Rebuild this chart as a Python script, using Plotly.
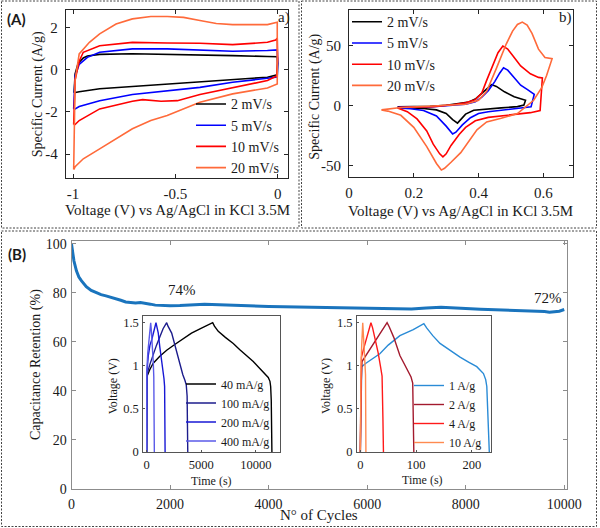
import plotly.graph_objects as go

W, H = 600, 528

def px(x):
    return x / W

def py(y):
    return 1 - y / H

# ---------------- Panel (A) a) : CV, negative electrode ----------------
cv_a_labels = ["2 mV/s", "5 mV/s", "10 mV/s", "20 mV/s"]
cv_a_colors = ["#000000", "#0000ff", "#ff0000", "#ff6a3a"]

cv_a_2_x = [-0.995, -0.99, -0.975, -0.95, -0.93, -0.87, -0.71, -0.54, -0.38, -0.22, -0.05, -0.002, 0.0,
            -0.002, -0.05, -0.22, -0.38, -0.54, -0.71, -0.87, -0.97, -0.99, -0.995]
cv_a_2_y = [-1.1, -0.2, 0.3, 0.55, 0.64, 0.72, 0.75, 0.73, 0.69, 0.66, 0.62, 0.61, 0.3,
            -0.25, -0.36, -0.47, -0.6, -0.68, -0.79, -0.91, -1.05, -1.1, -1.1]

cv_a_5_x = [-0.997, -0.99, -0.97, -0.93, -0.87, -0.71, -0.54, -0.38, -0.22, -0.05, -0.002, 0.0,
            -0.002, -0.05, -0.22, -0.38, -0.54, -0.71, -0.87, -0.97, -0.99, -0.997]
cv_a_5_y = [-1.86, -0.3, 0.25, 0.58, 0.82, 0.98, 0.98, 0.93, 0.87, 0.9, 0.93, 0.3,
            -0.35, -0.41, -0.6, -0.84, -0.99, -1.18, -1.47, -1.75, -1.86, -1.86]

cv_a_10_x = [-0.997, -0.99, -0.97, -0.95, -0.87, -0.71, -0.54, -0.38, -0.22, -0.05, -0.01, -0.002, 0.0,
             -0.005, -0.05, -0.22, -0.38, -0.49, -0.57, -0.66, -0.71, -0.87, -0.97, -0.99, -0.997]
cv_a_10_y = [-2.6, -0.5, 0.4, 0.82, 1.13, 1.29, 1.26, 1.25, 1.18, 1.29, 1.4, 1.48, 0.5,
             -0.3, -0.52, -0.87, -1.18, -1.47, -1.5, -1.42, -1.5, -1.86, -2.41, -2.6, -2.6]

cv_a_20_x = [-0.997, -0.99, -0.97, -0.92, -0.87, -0.79, -0.71, -0.62, -0.54, -0.46, -0.38, -0.3, -0.22, -0.05,
             -0.002, 0.0, -0.002, -0.05, -0.22, -0.38, -0.48, -0.54, -0.62, -0.71, -0.87, -0.95, -0.99, -0.997]
cv_a_20_y = [-4.73, -0.5, 0.74, 1.29, 1.69, 2.16, 2.4, 2.51, 2.51, 2.47, 2.32, 2.18, 2.13, 2.13,
             2.24, 0.0, -0.68, -0.87, -1.15, -1.54, -1.94, -2.17, -2.41, -2.8, -3.75, -4.22, -4.6, -4.73]

# ---------------- Panel (A) b) : CV, positive electrode ----------------
cv_b_2_x = [0.15, 0.20, 0.25, 0.30, 0.34, 0.37, 0.39, 0.41, 0.43, 0.44, 0.455, 0.48, 0.51, 0.53, 0.545,
            0.54, 0.52, 0.47, 0.42, 0.385, 0.36, 0.345, 0.335, 0.32, 0.30, 0.27, 0.23, 0.19, 0.15]
cv_b_2_y = [-1.0, -1.0, -0.6, 0.3, 1.5, 3.0, 5.5, 10.5, 15.5, 17.5, 16.0, 11.5, 7.5, 5.5, 4.5,
            0.5, -0.8, -1.8, -2.8, -3.8, -7.0, -12.0, -14.5, -11.5, -6.5, -3.5, -2.3, -1.8, -1.5]

cv_b_5_x = [0.15, 0.20, 0.26, 0.32, 0.36, 0.39, 0.41, 0.43, 0.45, 0.465, 0.477, 0.49, 0.51, 0.53, 0.55, 0.565, 0.572,
            0.562, 0.52, 0.47, 0.43, 0.40, 0.375, 0.35, 0.33, 0.32, 0.30, 0.27, 0.23, 0.19, 0.15]
cv_b_5_y = [-1.3, -1.2, -0.8, 0.3, 1.3, 3.2, 7.0, 12.5, 20.0, 27.0, 31.5, 29.5, 23.0, 17.0, 13.5, 11.0, 9.5,
            -1.0, -2.2, -3.5, -5.0, -6.5, -10.0, -16.0, -22.0, -23.5, -17.0, -8.5, -4.0, -2.5, -1.8]

cv_b_10_x = [0.15, 0.20, 0.26, 0.32, 0.36, 0.39, 0.41, 0.425, 0.445, 0.46, 0.475, 0.49, 0.51, 0.53, 0.56, 0.585, 0.597,
             0.59, 0.56, 0.49, 0.43, 0.39, 0.36, 0.34, 0.315, 0.30, 0.29, 0.28, 0.26, 0.24, 0.21, 0.18, 0.15]
cv_b_10_y = [-1.5, -1.4, -0.8, 0.8, 2.5, 5.0, 10.5, 21.0, 35.0, 44.0, 49.5, 47.0, 40.0, 33.0, 26.5, 23.5, 23.0,
             -4.0, -5.8, -7.8, -9.7, -12.5, -18.0, -24.0, -33.0, -40.0, -42.5, -40.0, -32.0, -21.0, -11.0, -5.0, -2.0]

cv_b_20_x = [0.10, 0.16, 0.26, 0.36, 0.40, 0.425, 0.455, 0.485, 0.505, 0.52, 0.535, 0.55, 0.565, 0.585, 0.605, 0.62, 0.627,
             0.61, 0.595, 0.57, 0.52, 0.47, 0.425, 0.395, 0.375, 0.345, 0.315, 0.295, 0.285, 0.27, 0.24, 0.20, 0.16, 0.12, 0.10]
cv_b_20_y = [-3.5, -1.5, -0.3, 1.2, 4.5, 12.0, 31.0, 51.0, 62.0, 67.5, 69.5, 67.0, 60.0, 47.0, 40.0, 39.5, 39.0,
             25.0, 15.0, 4.5, -6.5, -10.5, -13.5, -20.0, -28.0, -39.0, -47.0, -52.0, -53.5, -48.0, -34.0, -18.0, -8.0, -4.5, -3.5]

# ---------------- Panel (B) : capacitance retention ----------------
cycles = [0, 20, 50, 100, 150, 200, 300, 400, 500, 600, 700, 800, 900, 1000, 1100, 1200, 1300, 1400, 1500,
          1600, 1700, 1800, 1900, 2000, 2200, 2400, 2600, 2700, 2800, 3000, 3200, 3400, 3600, 3800, 4000,
          4300, 4600, 5000, 5300, 5600, 6000, 6300, 6600, 6900, 7200, 7500, 7800, 8000, 8300, 8600, 8900,
          9200, 9400, 9600, 9700, 9800, 9900, 10000]
retention = [100, 97, 93, 89, 86.5, 85, 82.5, 81, 80, 79.3, 78.8, 78.3, 77.6, 77, 76.3, 76, 75.9, 76.1, 75.9,
             75.4, 75, 74.8, 74.7, 74.7, 74.8, 74.9, 75.3, 75.4, 75.3, 75.1, 74.9, 74.8, 74.6, 74.5, 74.4,
             74.3, 74.2, 74.1, 74.0, 74.0, 73.9, 73.7, 73.6, 73.4, 73.8, 74.1, 73.8, 73.5, 73.3, 73.1, 72.9,
             72.8, 72.7, 72.4, 72.1, 72.2, 72.5, 73.2]

# ---------------- Inset 1 : GCD at mA/g ----------------
gcd1_labels = ["40 mA/g", "100 mA/g", "200 mA/g", "400 mA/g"]
gcd1_colors = ["#000000", "#1c1c8c", "#1818d4", "#5a5ae8"]
t_40 = [0, 5, 30, 300, 600, 1200, 1830, 2600, 3350, 4100, 4877, 5500, 6040, 6200, 6550, 7200, 7923, 8500,
        9150, 9753, 10200, 10668, 11000, 11125, 11280, 11345, 11400, 11437, 11460]
v_40 = [0, 0.6, 0.88, 0.96, 1.03, 1.11, 1.18, 1.25, 1.32, 1.38, 1.43, 1.47, 1.5, 1.46, 1.4, 1.33, 1.26, 1.19,
        1.12, 1.05, 0.99, 0.93, 0.89, 0.865, 0.82, 0.76, 0.6, 0.3, 0]
t_100 = [0, 5, 30, 300, 604, 900, 1217, 1500, 1830, 1950, 2287, 2700, 3047, 3300, 3504, 3620, 3700, 3740, 3760]
v_100 = [0, 0.6, 0.9, 1.02, 1.14, 1.24, 1.34, 1.43, 1.5, 1.46, 1.38, 1.18, 0.99, 0.9, 0.83, 0.78, 0.65, 0.3, 0]
t_200 = [0, 5, 20, 150, 300, 457, 650, 850, 920, 1061, 1200, 1372, 1480, 1583, 1640, 1670, 1685]
v_200 = [0, 0.6, 0.93, 1.12, 1.24, 1.3, 1.4, 1.5, 1.46, 1.38, 1.22, 1.07, 0.96, 0.85, 0.76, 0.4, 0]
t_400 = [0, 3, 15, 100, 200, 366, 420, 530, 600, 650, 680, 700]
v_400 = [0, 0.6, 0.95, 1.15, 1.3, 1.5, 1.42, 1.22, 1.05, 0.87, 0.6, 0]

# ---------------- Inset 2 : GCD at A/g ----------------
gcd2_labels = ["1 A/g", "2 A/g", "4 A/g", "10 A/g"]
gcd2_colors = ["#2a8bd6", "#a31a2e", "#ff1a1a", "#ff8a50"]
t_1 = [0, 1, 2.5, 10, 17, 35, 50, 71, 95, 114, 119, 130, 143, 160, 179, 195, 209, 221, 225, 227, 229, 230.5, 231.5]
v_1 = [0, 0.6, 0.99, 1.03, 1.06, 1.14, 1.24, 1.35, 1.42, 1.49, 1.44, 1.35, 1.26, 1.18, 1.1, 1.04, 0.99, 0.91,
       0.84, 0.76, 0.5, 0.2, 0]
t_2 = [0, 1, 3, 10, 20, 30, 40, 48, 52, 60, 71, 80, 86, 91, 94, 95.3, 96]
v_2 = [0, 0.7, 1.05, 1.12, 1.22, 1.32, 1.42, 1.5, 1.45, 1.33, 1.12, 1.0, 0.93, 0.87, 0.8, 0.4, 0]
t_4 = [0, 1, 2, 6, 12, 19, 22, 27, 32, 36, 39, 40.5, 41.5]
v_4 = [0, 0.8, 1.1, 1.2, 1.33, 1.5, 1.44, 1.3, 1.15, 1.0, 0.88, 0.4, 0]
t_10 = [0, 0.5, 1.2, 2.5, 4.3, 6, 8, 9.3, 10]
v_10 = [0, 0.7, 1.0, 1.25, 1.5, 1.3, 1.1, 0.9, 0]

# tick labels
a_xticks = [-1, -0.5, 0]
a_xtext = ["-1", "-0.5", "0"]
a_yticks = [-4, -2, 0, 2]
a_ytext = ["-4", "-2", "0", "2"]
b_xticks = [0, 0.2, 0.4, 0.6]
b_xtext = ["0", "0.2", "0.4", "0.6"]
b_yticks = [-50, 0, 50]
b_ytext = ["-50", "0", "50"]
B_xticks = [0, 2000, 4000, 6000, 8000, 10000]
B_xtext = ["0", "2000", "4000", "6000", "8000", "10000"]
B_yticks = [0, 20, 40, 60, 80, 100]
B_ytext = ["0", "20", "40", "60", "80", "100"]
i1_xticks = [0, 5000, 10000]
i1_xtext = ["0", "5000", "10000"]
i2_xticks = [0, 100, 200]
i2_xtext = ["0", "100", "200"]
i_yticks = [0, 0.5, 1, 1.5]
i_ytext = ["0", "0.5", "1", "1.5"]

SERIF = "Liberation Serif"

fig = go.Figure()

cv_a = [(cv_a_2_x, cv_a_2_y), (cv_a_5_x, cv_a_5_y), (cv_a_10_x, cv_a_10_y), (cv_a_20_x, cv_a_20_y)]
for (xs, ys), name, col in zip(cv_a, cv_a_labels, cv_a_colors):
    fig.add_trace(go.Scatter(x=xs, y=ys, mode="lines", name=name, line=dict(color=col, width=1.6),
                             xaxis="x", yaxis="y", legend="legend"))

cv_b = [(cv_b_2_x, cv_b_2_y), (cv_b_5_x, cv_b_5_y), (cv_b_10_x, cv_b_10_y), (cv_b_20_x, cv_b_20_y)]
for (xs, ys), name, col in zip(cv_b, cv_a_labels, cv_a_colors):
    fig.add_trace(go.Scatter(x=xs, y=ys, mode="lines", name=name, line=dict(color=col, width=1.6),
                             xaxis="x2", yaxis="y2", legend="legend2"))

fig.add_trace(go.Scatter(x=cycles, y=retention, mode="lines", showlegend=False,
                         line=dict(color="#1a74bd", width=3), xaxis="x3", yaxis="y3"))

gcd1 = [(t_40, v_40), (t_100, v_100), (t_200, v_200), (t_400, v_400)]
for (xs, ys), name, col in zip(gcd1, gcd1_labels, gcd1_colors):
    fig.add_trace(go.Scatter(x=xs, y=ys, mode="lines", name=name, line=dict(color=col, width=1.4),
                             xaxis="x4", yaxis="y4", legend="legend3"))

gcd2 = [(t_1, v_1), (t_2, v_2), (t_4, v_4), (t_10, v_10)]
for (xs, ys), name, col in zip(gcd2, gcd2_labels, gcd2_colors):
    fig.add_trace(go.Scatter(x=xs, y=ys, mode="lines", name=name, line=dict(color=col, width=1.4),
                             xaxis="x5", yaxis="y5", legend="legend4"))


def ax(domain, rng, tv, tt, anchor, color="#262626", size=14, ticklen=4, standoff=2, mirror="ticks"):
    return dict(domain=domain, range=rng, tickvals=tv, ticktext=tt, anchor=anchor,
                showline=True, linecolor=color, linewidth=1, mirror=mirror,
                ticks="inside", ticklen=ticklen, tickcolor=color, showgrid=False, zeroline=False,
                automargin=False,
                tickfont=dict(family=SERIF, size=size, color="#1a1a1a"), ticklabelstandoff=standoff)


layout = dict(
    template="none",
    width=W, height=H, margin=dict(l=0, r=0, t=0, b=0, pad=0, autoexpand=False),
    paper_bgcolor="white", plot_bgcolor="white",
    font=dict(family=SERIF, color="#1a1a1a"),
    xaxis=ax([px(65.7), px(288.3)], [-1.036, 0.052], a_xticks, a_xtext, "y", size=15, standoff=2),
    yaxis=ax([py(178), py(10)], [-5.13, 2.82], a_yticks, a_ytext, "x", size=15, standoff=4),
    xaxis2=ax([px(349), px(572.5)], [0, 0.69], b_xticks, b_xtext, "y2", size=15, standoff=2),
    yaxis2=ax([py(177.3), py(10)], [-59.5, 79.5], b_yticks, b_ytext, "x2", size=15, standoff=4),
    xaxis3=ax([px(71.5), px(566.7)], [0, 10050], B_xticks, B_xtext, "y3", color="#8c8c8c", size=14, standoff=2),
    yaxis3=ax([py(488.7), py(241)], [0, 101.2], B_yticks, B_ytext, "x3", color="#8c8c8c", size=14, standoff=1),
    xaxis4=ax([px(143.3), px(280)], [-310, 12200], i1_xticks, i1_xtext, "y4", color="#555555", size=12.5,
              ticklen=2, mirror=True, standoff=1),
    yaxis4=ax([py(452), py(316)], [0, 1.578], i_yticks, i_ytext, "x4", color="#555555", size=12.5,
              ticklen=2, mirror=True, standoff=1),
    xaxis5=ax([px(357), px(490.7)], [-6, 234], i2_xticks, i2_xtext, "y5", color="#555555", size=12.5,
              ticklen=2, mirror=True, standoff=1),
    yaxis5=ax([py(452), py(316)], [0, 1.578], i_yticks, i_ytext, "x5", color="#555555", size=12.5,
              ticklen=2, mirror=True, standoff=1),
)

leg_common = dict(xanchor="left", yanchor="top", bgcolor="rgba(0,0,0,0)", borderwidth=0, tracegroupgap=0)
layout["legend"] = dict(x=px(191), y=py(88.4), font=dict(family=SERIF, size=14, color="#1a1a1a"), **leg_common)
layout["legend2"] = dict(x=px(347), y=py(6.2), font=dict(family=SERIF, size=14, color="#1a1a1a"), **leg_common)
layout["legend3"] = dict(x=px(181), y=py(369.5), font=dict(family=SERIF, size=12, color="#1a1a1a"), **leg_common)
layout["legend4"] = dict(x=px(409), y=py(371), font=dict(family=SERIF, size=12, color="#1a1a1a"), **leg_common)

fig.update_layout(**layout)


def note(text, xp, yp, size=15, angle=0, family=SERIF, bold=False):
    fig.add_annotation(text=("<b>%s</b>" % text) if bold else text, x=px(xp), y=py(yp),
                       xref="paper", yref="paper", xanchor="center", yanchor="middle",
                       showarrow=False, textangle=angle,
                       font=dict(family=family, size=size, color="#1a1a1a"))


note("Voltage (V) vs Ag/AgCl in KCl 3.5M", 177.5, 210)
note("Specific Current (A/g)", 38.3, 94, size=14, angle=-90)
note("Voltage (V) vs Ag/AgCl in KCl 3.5M", 460.8, 211.5)
note("Specific Current (A/g)", 315, 96.7, size=14, angle=-90)
note("N° of Cycles", 319, 515)
note("Capacitance Retention (%)", 36, 365, size=14, angle=-90)
note("Voltage (V)", 113.3, 386, size=12, angle=-90)
note("Voltage (V)", 326, 386, size=12, angle=-90)
note("Time (s)", 211, 481, size=12)
note("Time (s)", 422.5, 480, size=12)
note("(A)", 16.7, 19, family="Lato", bold=True)
note("(B)", 16.7, 254.5, family="Lato", bold=True)
note("a)", 283.5, 17)
note("b)", 565, 17)
note("74%", 181.7, 290)
note("72%", 548, 298)

# dashed frames
frame = dict(type="rect", xref="paper", yref="paper", line=dict(color="#444444", width=1, dash="2px,1.5px"),
             fillcolor="rgba(0,0,0,0)")
fig.add_shape(x0=px(1.5), x1=px(299), y0=py(1), y1=py(228), **frame)
fig.add_shape(x0=px(301.5), x1=px(596.5), y0=py(1), y1=py(228), **frame)
fig.add_shape(x0=px(1.5), x1=px(596.5), y0=py(231), y1=py(526.5), **frame)

fig.write_html("out.html", config={"displayModeBar": False},
               post_script="document.body.style.margin='0px';document.body.style.padding='0px';")
